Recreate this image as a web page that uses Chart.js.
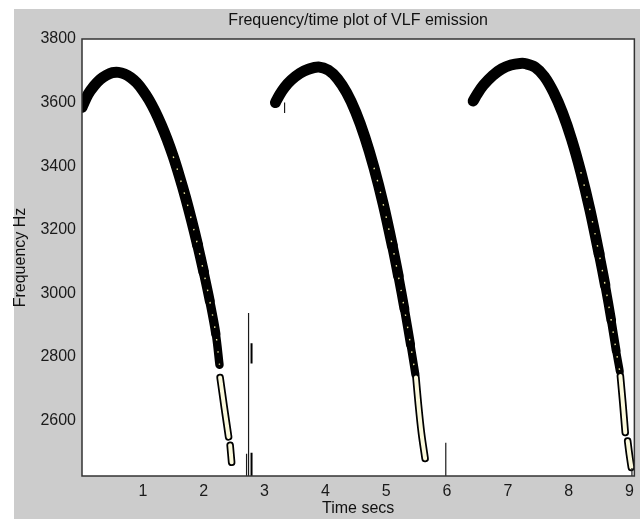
<!DOCTYPE html>
<html>
<head>
<meta charset="utf-8">
<title>Frequency/time plot of VLF emission</title>
<script src="https://cdn.jsdelivr.net/npm/chart.js@4.4.1/dist/chart.umd.min.js"></script>
<style>
  html, body { margin: 0; padding: 0; background: #ffffff; }
  canvas { display: block; }
</style>
</head>
<body>
<canvas id="vlf" width="640" height="519"></canvas>
<script>
// axis ticks
const timeTicks = [1, 2, 3, 4, 5, 6, 7, 8, 9];
const freqTicks = [2600, 2800, 3000, 3200, 3400, 3600, 3800];

// first emission (starts before t = 0)
const arc1Time = [0, 0.1, 0.2, 0.3, 0.4, 0.5, 0.6, 0.7, 0.8, 0.9, 1.0, 1.1, 1.2, 1.3, 1.4, 1.5, 1.6, 1.7, 1.8, 1.9, 2.0, 2.1, 2.2, 2.26];
const arc1Freq = [3585, 3626, 3653, 3673, 3686, 3694, 3695, 3690, 3679, 3662, 3638, 3609, 3573, 3531, 3484, 3430, 3369, 3303, 3230, 3152, 3067, 2976, 2872, 2775];
const arc1TailTime = [2.27, 2.34, 2.41, 2.42, 2.435, 2.46];
const arc1TailFreq = [2735, 2640, 2548, null, 2522, 2468];

// second emission
const arc2Time = [3.18, 3.25, 3.33, 3.44, 3.58, 3.72, 3.89, 4.05, 4.2, 4.35, 4.5, 4.65, 4.8, 4.95, 5.1, 5.2, 5.3, 5.4, 5.48];
const arc2Freq = [3600, 3625, 3648, 3671, 3692, 3705, 3712, 3702, 3675, 3631, 3570, 3491, 3395, 3282, 3151, 3055, 2951, 2839, 2745];
const arc2TailTime = [5.49, 5.53, 5.58, 5.64];
const arc2TailFreq = [2735, 2650, 2560, 2480];

// third emission (runs into the right edge)
const arc3Time = [6.43, 6.5, 6.6, 6.75, 6.9, 7.05, 7.2, 7.3, 7.45, 7.6, 7.75, 7.9, 8.05, 8.2, 8.35, 8.5, 8.6, 8.7, 8.78, 8.84];
const arc3Freq = [3605, 3628, 3655, 3685, 3706, 3718, 3723, 3722, 3711, 3682, 3633, 3567, 3483, 3381, 3262, 3124, 3025, 2915, 2820, 2755];
const arc3TailTime = [8.85, 8.89, 8.93, 8.95, 8.97, 9.0, 9.03];
const arc3TailFreq = [2740, 2655, 2562, null, 2535, 2490, 2452];

// vertical spikes (null = gap)
const spikeTime = [2.705, 2.705, 2.72, 2.738, 2.738, 2.76, 3.33, 3.33, 3.4, 5.98, 5.98, 6.1, 9.04, 9.04];
const spikeFreq = [2425, 2495, null, 2425, 2938, null, 3600, 3567, null, 2425, 2530, null, 2425, 2450];
const spikeBoldTime = [2.787, 2.787, 2.8, 2.787, 2.787];
const spikeBoldFreq = [2843, 2779, null, 2498, 2425];

const INK = '#000000';
const CREAM = '#fbf9dc';
const SPECK = '#e6e09a';
const FONT = "'Liberation Sans', Arial, sans-serif";

const zip = (xs, ys) => xs.map((x, i) => ({ x: x, y: ys[i] }));

// thicker at the top of the arc, thinner further down
function bandWidth(f) {
    if (f >= 3200) return 11;
    if (f <= 2750) return 7.5;
    return 7.5 + (f - 2750) / 450 * 3.5;
}

function band(time, freq) {
    return {
        data: zip(time, freq),
        borderColor: INK,
        borderWidth: 10,
        borderCapStyle: 'round',
        borderJoinStyle: 'round',
        pointRadius: 0,
        tension: 0.35,
        clip: 0,
        order: 6,
        segment: { borderWidth: ctx => bandWidth(ctx.p0.parsed.y) }
    };
}

function specks(time, freq) {
    return {
        data: zip(time, freq),
        borderColor: SPECK,
        borderWidth: 1.4,
        borderDash: [1.5, 11],
        pointRadius: 0,
        tension: 0.35,
        clip: 0,
        order: 5,
        segment: { borderColor: ctx => (ctx.p0.parsed.y > 3450 ? 'rgba(0,0,0,0)' : SPECK) }
    };
}

function tailOutline(time, freq) {
    return {
        data: zip(time, freq),
        borderColor: INK,
        borderWidth: 7.5,
        borderCapStyle: 'round',
        pointRadius: 0,
        tension: 0.3,
        spanGaps: false,
        clip: 0,
        order: 4
    };
}

function tailFill(time, freq) {
    return {
        data: zip(time, freq),
        borderColor: CREAM,
        borderWidth: 4,
        borderCapStyle: 'round',
        pointRadius: 0,
        tension: 0.3,
        spanGaps: false,
        clip: 0,
        order: 3
    };
}

// grey figure background, white axes and box
const framePlugin = {
    id: 'frame',
    beforeDraw(chart) {
        const { ctx, chartArea: a, width, height } = chart;
        ctx.save();
        ctx.fillStyle = '#ffffff';
        ctx.fillRect(0, 0, width, height);
        ctx.fillStyle = '#cccccc';
        ctx.fillRect(14, 9, width - 14, height - 9);
        ctx.fillStyle = '#ffffff';
        ctx.fillRect(a.left, a.top, a.right - a.left, a.bottom - a.top);
        ctx.restore();
    },
    afterDatasetsDraw(chart) {
        const { ctx, chartArea: a } = chart;
        ctx.save();
        ctx.strokeStyle = '#333333';
        ctx.lineWidth = 1.5;
        ctx.strokeRect(a.left, a.top, a.right - a.left, a.bottom - a.top);
        ctx.restore();
    }
};

new Chart(document.getElementById('vlf'), {
    type: 'line',
    data: {
        datasets: [
            band(arc1Time, arc1Freq),
            specks(arc1Time, arc1Freq),
            tailOutline(arc1TailTime, arc1TailFreq),
            tailFill(arc1TailTime, arc1TailFreq),
            band(arc2Time, arc2Freq),
            specks(arc2Time, arc2Freq),
            tailOutline(arc2TailTime, arc2TailFreq),
            tailFill(arc2TailTime, arc2TailFreq),
            band(arc3Time, arc3Freq),
            specks(arc3Time, arc3Freq),
            tailOutline(arc3TailTime, arc3TailFreq),
            tailFill(arc3TailTime, arc3TailFreq),
            {
                data: zip(spikeTime, spikeFreq),
                borderColor: '#1a1a1a',
                borderWidth: 1.2,
                pointRadius: 0,
                tension: 0,
                spanGaps: false,
                clip: 0,
                order: 2
            },
            {
                data: zip(spikeBoldTime, spikeBoldFreq),
                borderColor: INK,
                borderWidth: 2,
                pointRadius: 0,
                tension: 0,
                spanGaps: false,
                clip: 0,
                order: 2
            }
        ]
    },
    options: {
        responsive: false,
        animation: false,
        events: [],
        layout: { padding: { left: 0, top: 0, right: 3, bottom: 0 } },
        plugins: {
            legend: { display: false },
            tooltip: { enabled: false },
            title: {
                display: true,
                text: 'Frequency/time plot of VLF emission',
                fullSize: false,
                color: '#111111',
                font: { family: FONT, size: 16, weight: 'normal', lineHeight: 1.25 },
                padding: { top: 11, bottom: 8 }
            }
        },
        scales: {
            x: {
                type: 'linear',
                min: 0,
                max: 9.08,
                afterBuildTicks: s => { s.ticks = timeTicks.map(v => ({ value: v })); },
                afterFit: s => { s.height = 43; },
                grid: { display: false, drawTicks: false },
                border: { display: false },
                ticks: {
                    color: '#1a1a1a',
                    font: { family: FONT, size: 16 },
                    padding: 6,
                    maxRotation: 0,
                    autoSkip: false,
                    callback: v => String(v)
                },
                title: {
                    display: true,
                    text: 'Time secs',
                    color: '#111111',
                    font: { family: FONT, size: 16, lineHeight: 1.25 },
                    padding: { top: 0, bottom: 0 }
                }
            },
            y: {
                type: 'linear',
                min: 2425,
                max: 3800,
                afterBuildTicks: s => { s.ticks = freqTicks.map(v => ({ value: v })); },
                afterFit: s => { s.width = 82; },
                grid: { display: false, drawTicks: false },
                border: { display: false },
                ticks: {
                    color: '#1a1a1a',
                    font: { family: FONT, size: 16 },
                    padding: 6,
                    autoSkip: false,
                    callback: v => String(v)
                },
                title: {
                    display: true,
                    text: 'Frequency Hz',
                    color: '#111111',
                    font: { family: FONT, size: 16, lineHeight: 1.25 },
                    padding: { top: 11, bottom: 0 }
                }
            }
        }
    },
    plugins: [framePlugin]
});
</script>
</body>
</html>
